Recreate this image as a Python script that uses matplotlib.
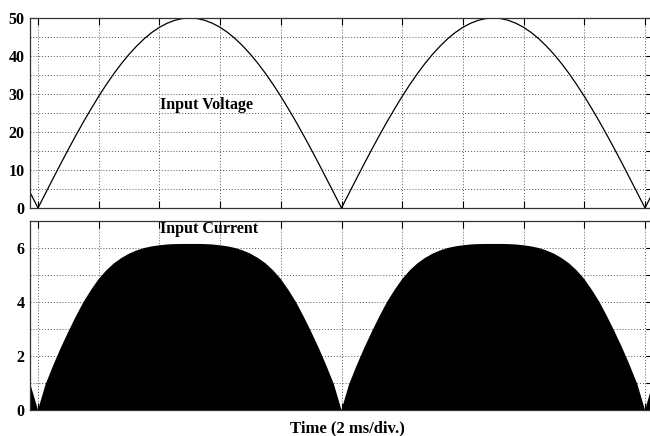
import numpy as np
import matplotlib
matplotlib.use("Agg")
import matplotlib.pyplot as plt

# quarter-cycle samples (time in divisions, 2 ms/div)
t_q = [0, 0.125, 0.25, 0.375, 0.5, 0.625, 0.75, 0.875, 1.0, 1.125, 1.25,
       1.375, 1.5, 1.625, 1.75, 1.875, 2.0, 2.125, 2.25, 2.375, 2.5]
v_q = [0, 3.92, 7.82, 11.67, 15.45, 19.13, 22.70, 26.10, 29.39, 32.47, 35.36,
       38.02, 40.45, 42.61, 44.55, 46.19, 47.55, 48.60, 49.38, 49.85, 50.0]
i_q = [0, 0.95, 1.65, 2.3, 2.9, 3.47, 4.0, 4.45, 4.85, 5.17, 5.43,
       5.63, 5.79, 5.91, 6.0, 6.06, 6.1, 6.13, 6.145, 6.15, 6.15]

periods = [-5, 0, 5, 10]

def build(th, vh):
    th = np.array(th); vh = np.array(vh)
    tt = np.concatenate([th, 5 - th[::-1][1:]])
    vv = np.concatenate([vh, vh[::-1][1:]])
    T = np.concatenate([tt + p for p in periods])
    V = np.concatenate([vv for p in periods])
    return T, V

tv, vv = build(t_q, v_q)
ti, ii = build(t_q, i_q)

W, H = 650, 436
fig = plt.figure(figsize=(W / 100, H / 100), dpi=100)
font = dict(family="Liberation Serif", weight="bold", size=11.5)

x0, x1 = 30, 650
tz, dx = 38, 60.7
xlim = ((x0 - tz) / dx, (x1 - tz) / dx)

ax1 = fig.add_axes([x0 / W, 1 - 208 / H, (x1 - x0) / W, 190 / H])
ax2 = fig.add_axes([x0 / W, 1 - 410 / H, (x1 - x0) / W, 189 / H])

for ax in (ax1, ax2):
    ax.set_xlim(*xlim)
    ax.set_xticks(np.arange(0, 11))
    ax.set_xticklabels([])
    ax.grid(True, which="both", linestyle=(0, (1, 2)), color="#555555", linewidth=0.7)
    ax.tick_params(axis="x", direction="in", length=5, top=True, bottom=True, width=0.8)
    ax.tick_params(axis="y", which="both", direction="in", length=3, left=False, right=True, width=0.8, pad=4)
    ax.spines["right"].set_visible(False)
    for s in ("left", "top", "bottom"):
        ax.spines[s].set_linewidth(0.9)
        ax.spines[s].set_color("#333333")
    ax.set_axisbelow(True)

ax1.plot(tv, vv, color="black", linewidth=0.9)
ax1.set_ylim(0, 50)
ax1.set_yticks([0, 10, 20, 30, 40, 50])
ax1.set_yticks([5, 15, 25, 35, 45], minor=True)
ax1.set_yticklabels(["0", "10", "20", "30", "40", "50"], **font)

ax2.fill_between(ti, 0, ii, color="black", linewidth=0)
ax2.set_ylim(0, 7)
ax2.set_yticks([0, 2, 4, 6])
ax2.set_yticks([1, 3, 5, 7], minor=True)
ax2.set_yticklabels(["0", "2", "4", "6"], **font)

fig.text(160 / W, 1 - 105 / H, "Input Voltage", ha="left", va="center", **font)
fig.text(160 / W, 1 - 229 / H, "Input Current", ha="left", va="center", **font)
fig.text(347 / W, 1 - 428 / H, "Time (2 ms/div.)", ha="center", va="center",
         family="Liberation Serif", weight="bold", size=12)

fig.savefig("out.png", dpi=100)
